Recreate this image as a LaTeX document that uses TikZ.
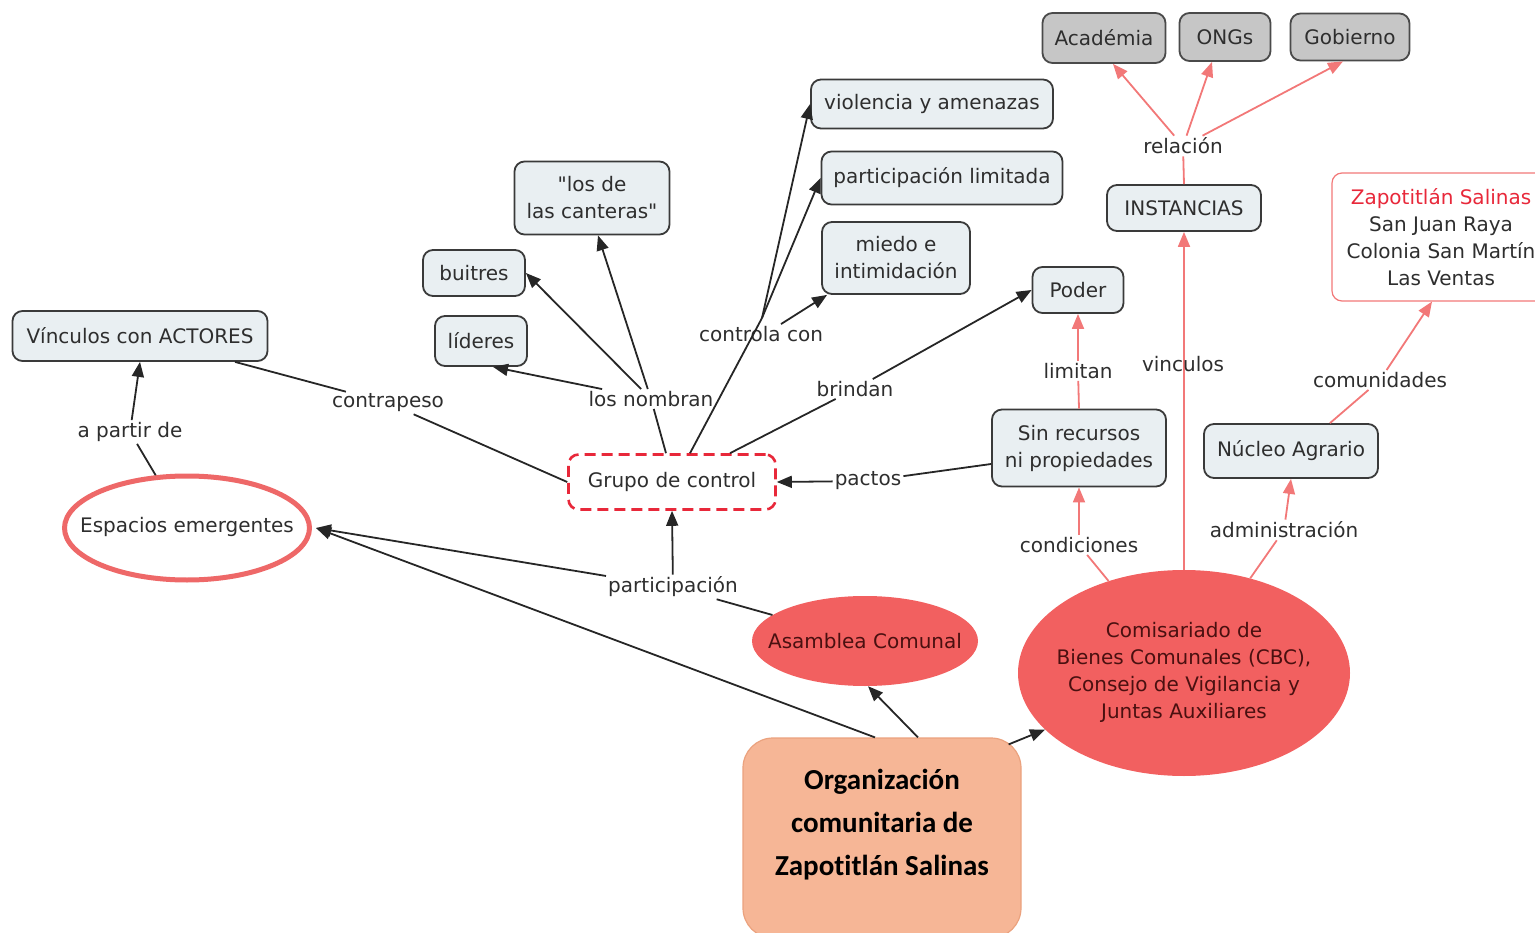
\documentclass[tikz,border=0pt]{standalone}
\usepackage{fontspec}
\newfontfamily\vfont{DejaVu Sans}
\newfontfamily\carl{Carlito}[Ligatures=NoCommon]
\usetikzlibrary{arrows.meta,shapes.geometric}
\definecolor{boxfill}{HTML}{E9EFF2}
\definecolor{boxline}{HTML}{3A3A3A}
\definecolor{grayfill}{HTML}{C6C6C6}
\definecolor{grayline}{HTML}{4A4A4A}
\definecolor{txt}{HTML}{2E2E2E}
\definecolor{redline}{HTML}{F27878}
\definecolor{ellfill}{HTML}{F26060}
\definecolor{ellline}{HTML}{EE6868}
\definecolor{dashred}{HTML}{E8283A}
\definecolor{orgfill}{HTML}{F6B696}
\definecolor{orgline}{HTML}{EBA27E}
\definecolor{maroon}{HTML}{4A1010}
\definecolor{zapred}{HTML}{E8283A}
\begin{document}
\begin{tikzpicture}[x=1pt,y=-1pt,
  font=\vfont\fontsize{20}{27}\selectfont,
  box/.style={draw=boxline, line width=1.8pt, fill=boxfill, rounded corners=10pt, text=txt, align=center, inner sep=0pt},
  gbox/.style={box, draw=grayline, fill=grayfill},
  lbl/.style={text=txt, inner sep=2pt},
  ell/.style={ellipse, fill=ellfill, draw=none, inner sep=0pt},
  elltxt/.style={text=maroon, align=center, inner sep=0pt},
  blk/.style={draw=black!85, line width=1.8pt},
  blkA/.style={blk, -{Triangle[length=15pt,width=12pt]}},
  rl/.style={draw=redline, line width=1.8pt},
  rlA/.style={rl, -{Triangle[length=15pt,width=12pt]}}
]
\useasboundingbox (0,0) rectangle (1535,933);

% top gray boxes
\node[gbox, minimum width=123pt, minimum height=50pt] (acad) at (1104,38) {Académia};
\node[gbox, minimum width=91pt, minimum height=48pt] (ongs) at (1225,37) {ONGs};
\node[gbox, minimum width=119pt, minimum height=47pt] (gob) at (1350,37) {Gobierno};
\node[lbl] (relacion) at (1183,146) {relación};
\node[box, minimum width=154pt, minimum height=46pt] (inst) at (1184,208) {INSTANCIAS};
\node[draw=redline, line width=1.2pt, fill=white, rounded corners=10pt, align=center, inner sep=0pt,
      minimum width=218pt, minimum height=128pt, text=txt] (zap) at (1441,237)
  {\textcolor{zapred}{Zapotitlán Salinas}\\San Juan Raya\\Colonia San Martín\\Las Ventas};

% middle boxes
\node[box, minimum width=242pt, minimum height=49pt] (viol) at (932,104) {violencia y amenazas};
\node[box, minimum width=241pt, minimum height=53pt] (partlim) at (942,178) {participación limitada};
\node[box, minimum width=148pt, minimum height=72pt] (miedo) at (896,258) {miedo e\\intimidación};
\node[box, minimum width=91pt, minimum height=46pt] (poder) at (1078,290) {Poder};
\node[box, minimum width=155pt, minimum height=73pt] (cant) at (592,198) {"los de\\las canteras"};
\node[box, minimum width=102pt, minimum height=46pt] (buit) at (474,273) {buitres};
\node[box, minimum width=92pt, minimum height=50pt] (lid) at (481,341) {líderes};
\node[box, minimum width=255pt, minimum height=50pt] (vinc) at (140,336) {Vínculos con ACTORES};
\node[box, minimum width=174pt, minimum height=77pt] (sinrec) at (1079,448) {Sin recursos\\ni propiedades};
\node[box, minimum width=174pt, minimum height=54pt] (nucleo) at (1291,451) {Núcleo Agrario};
\node[draw=dashred, line width=2.6pt, dash pattern=on 11pt off 6pt, fill=white, rounded corners=10pt,
      text=txt, inner sep=0pt, minimum width=207pt, minimum height=55pt] (grupo) at (672,482) {Grupo de control};

% ellipses
\node[ellipse, draw=ellline, line width=5pt, fill=white, inner sep=0pt,
      minimum width=245pt, minimum height=104pt] (esp) at (187,528) {};
\node[text=txt, inner sep=0pt] (espt) at (187,527) {Espacios emergentes};
\node[ell, minimum width=226pt, minimum height=90pt] (asam) at (865,641) {};
\node[elltxt] (asamt) at (865,641) {Asamblea Comunal};
\node[ell, minimum width=332pt, minimum height=206pt] (comis) at (1184,673) {};
\node[elltxt] (comist) at (1184,672)
  {Comisariado de\\Bienes Comunales (CBC),\\Consejo de Vigilancia y\\Juntas Auxiliares};
\node[draw=orgline, line width=1.2pt, fill=orgfill, rounded corners=30pt, inner sep=0pt,
      minimum width=278pt, minimum height=200pt] (org) at (882,838) {};
\node[align=center, inner sep=0pt, text=black,
      font=\carl\bfseries\fontsize{29}{43}\selectfont] (orgt) at (882,825)
  {Organización\\comunitaria de\\Zapotitlán Salinas};

% labels
\node[lbl] (apartir) at (130,432) {a partir de};
\node[lbl] (contrapeso) at (388,403) {contrapeso};
\node[lbl] (nombran) at (651,399) {los nombran};
\node[lbl] (ctrl) at (761,334) {controla con};
\coordinate (cc) at (762,318);
\node[lbl] (brindan) at (855,389) {brindan};
\node[lbl] (pactos) at (868,481) {pactos};
\node[lbl] (limitan) at (1078,371) {limitan};
\node[lbl] (comunid) at (1380,380) {comunidades};
\node[lbl] (particip) at (673,587) {participación};
\node[lbl] (condic) at (1079,545) {condiciones};
\node[lbl] (admin) at (1284,530) {administración};

% black connectors
\draw[blk] (esp) -- (apartir);
\draw[blkA] (apartir) -- (vinc.south);
\draw[blk] (grupo.west) -- (contrapeso);
\draw[blk] (contrapeso) -- ([xshift=95pt]vinc.south);
\draw[blk] ([xshift=-6pt]grupo.north) -- (nombran);
\draw[blkA] (nombran) -- ([xshift=12pt]lid.south);
\draw[blkA] (nombran) -- (buit.east);
\draw[blkA] (nombran) -- ([xshift=6pt]cant.south);
\draw[blk] ([xshift=18pt]grupo.north) -- (cc);
\draw[blkA] (cc) -- (viol.west);
\draw[blkA] (cc) -- (partlim.west);
\draw[blkA] ([xshift=20pt]ctrl.north) -- ([xshift=6pt]miedo.south west);
\draw[blk] ([xshift=58pt]grupo.north) -- (brindan);
\draw[blkA] (brindan) -- (poder.west);
\draw[blk] ([yshift=-16pt]sinrec.west) -- (pactos);
\draw[blkA] (pactos) -- (grupo.east);
\draw[blk] (asam) -- (particip);
\draw[blkA] (particip) -- (grupo.south);
\draw[blkA] (particip) -- ([xshift=4pt]esp.east);
\draw[blkA] ([xshift=-7pt]org.north) -- ([xshift=4pt]esp.east);
\draw[blkA] ([xshift=36pt]org.north) -- ([xshift=3pt]asam.south);
\draw[blkA] ([xshift=-13pt,yshift=-7pt]org.north east) -- (comis);

% red connectors
\draw[rl] (comis) -- (condic);
\draw[rlA] (condic) -- (sinrec.south);
\draw[rlA] (comis.north) -- (inst.south);
\node[lbl] (vincl) at (1183,364) {vinculos};
\draw[rl] (comis) -- (admin);
\draw[rlA] (admin) -- (nucleo.south);
\draw[rl] (sinrec.north) -- (limitan);
\draw[rlA] (limitan) -- (poder.south);
\draw[rl] ([xshift=39pt]nucleo.north) -- (comunid);
\draw[rlA] (comunid) -- ([xshift=-9pt]zap.south);
\draw[rl] (inst.north) -- (relacion);
\draw[rlA] (relacion) -- ([xshift=9pt]acad.south);
\draw[rlA] (relacion) -- ([xshift=-13pt]ongs.south);
\draw[rlA] (relacion) -- ([xshift=-7pt]gob.south);
\end{tikzpicture}
\end{document}
